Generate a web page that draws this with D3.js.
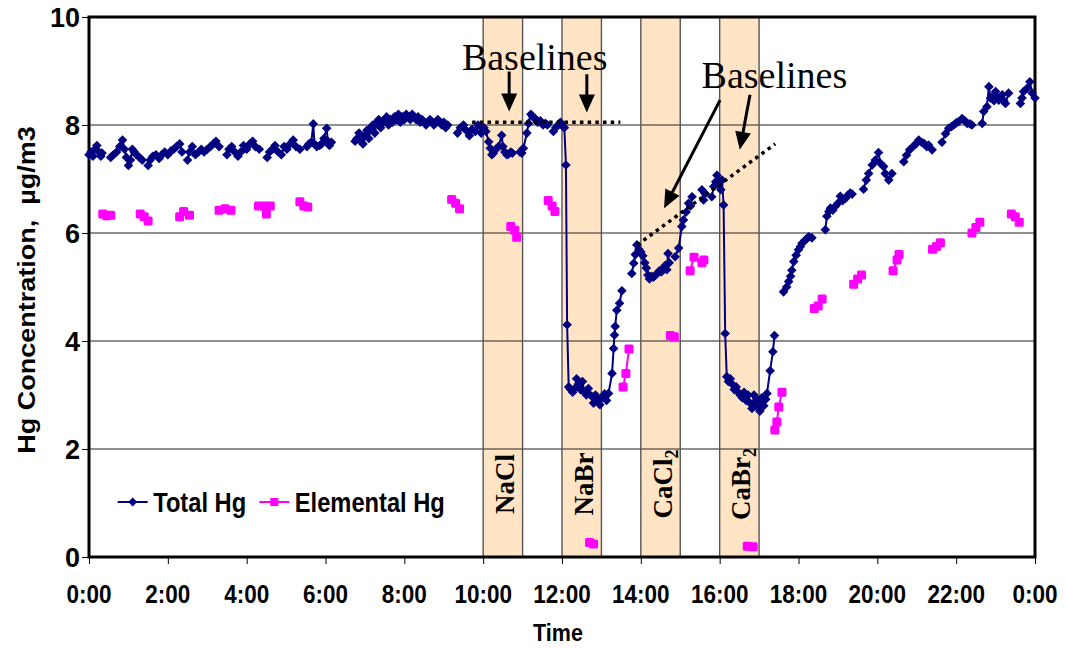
<!DOCTYPE html>
<html><head><meta charset="utf-8">
<script src="https://cdn.jsdelivr.net/npm/d3@7"></script>
<style>body{margin:0;background:#fff} svg{display:block}</style>
</head><body>
<svg id="c" width="1065" height="648"></svg>
<script>
// ---------- data ----------
const yTicks = [0, 2, 4, 6, 8, 10];
const yTickLabels = ["0", "2", "4", "6", "8", "10"];
const xTicks = [0, 2, 4, 6, 8, 10, 12, 14, 16, 18, 20, 22, 24];
const xTickLabels = ["0:00","2:00","4:00","6:00","8:00","10:00","12:00","14:00","16:00","18:00","20:00","22:00","0:00"];

const bandStart = [10, 12, 14, 16];
const bandEnd = [11, 13, 15, 17];
const bandNames = ["NaCl", "NaBr", "CaCl", "CaBr"];
const bandSubs = ["", "", "2", "2"];

const seriesNames = ["Total Hg", "Elemental Hg"];

// Total Hg (null = gap in record)
const totalHours = [
 0.00,0.05,0.10,0.15,0.20,0.25,0.30,0.33,null,
 0.55,0.62,0.70,0.78,0.85,0.90,0.95,1.00,1.05,1.10,1.15,1.20,1.28,1.35,null,
 1.50,1.55,1.62,1.70,1.78,1.85,1.92,2.00,2.08,2.15,2.22,2.30,2.36,null,
 2.50,2.55,2.62,2.70,2.78,2.85,2.92,3.00,3.08,3.15,3.22,3.30,null,
 3.50,3.55,3.62,3.70,3.78,3.85,3.92,4.00,4.08,4.15,4.22,4.32,null,
 4.52,4.58,4.65,4.72,4.80,4.88,4.95,5.02,5.10,5.18,5.25,5.35,null,
 5.53,5.58,5.64,5.69,5.72,5.78,5.85,5.90,5.96,6.03,6.06,6.10,6.15,null,
 6.75,6.80,6.85,6.90,6.95,7.00,7.05,7.10,7.15,7.20,7.25,7.30,7.35,7.40,7.45,7.50,7.55,7.60,7.65,7.70,7.75,7.80,7.85,7.90,7.95,8.00,8.05,8.10,8.15,8.20,8.25,8.30,8.35,8.40,8.45,8.50,8.55,8.60,8.65,8.70,8.75,8.80,8.85,8.90,8.95,9.00,9.05,9.10,null,
 9.35,9.42,9.50,9.57,9.65,9.72,9.80,9.87,9.95,10.02,10.07,10.14,10.18,10.22,10.26,10.32,10.39,10.47,10.50,10.55,10.60,10.64,10.70,10.74,null,
 10.93,10.98,11.02,11.11,11.15,11.21,11.26,11.32,11.38,11.45,11.52,11.58,11.63,null,
 11.78,11.84,11.90,11.96,12.02,12.06,12.10,12.13,12.17,12.22,12.27,12.32,12.37,12.42,12.47,12.52,12.57,12.62,12.67,12.75,12.80,12.85,12.90,12.96,13.02,13.08,13.13,13.18,13.27,13.31,13.33,13.35,13.39,13.46,13.52,null,
 13.77,13.82,13.86,13.90,13.95,14.00,14.05,14.10,14.14,14.18,14.22,14.27,14.32,14.37,14.42,14.47,14.52,14.57,14.62,14.66,14.69,14.72,null,
 14.87,14.96,15.04,15.08,15.15,15.21,15.26,15.30,null,
 15.55,15.59,15.63,null,
 15.80,15.85,15.90,15.93,15.97,16.00,16.03,16.06,16.10,16.14,16.18,16.22,16.27,16.32,16.37,16.42,16.47,16.52,16.57,16.62,16.67,16.72,16.77,16.82,16.87,16.92,16.97,17.02,17.07,17.12,17.17,17.20,17.28,17.35,17.39,null,
 17.62,17.70,17.75,17.80,17.83,17.88,17.94,18.00,18.05,18.09,18.17,18.22,18.26,18.34,null,
 18.68,18.72,18.77,18.81,18.87,18.93,19.00,19.06,19.12,19.19,19.25,19.31,19.36,null,
 19.65,19.72,19.78,19.87,19.95,20.03,20.08,20.16,20.20,20.29,20.37,null,
 20.67,20.74,20.82,20.92,20.98,21.05,21.12,21.18,21.25,21.30,21.39,null,
 21.64,21.73,21.81,21.88,21.94,22.00,22.06,22.15,22.22,22.28,22.35,22.40,null,
 22.66,22.70,22.78,22.83,22.87,22.91,22.96,23.00,23.04,23.08,23.13,23.17,23.21,23.25,23.33,null,
 23.63,23.67,23.71,23.80,23.87,23.93,24.00
];
const totalHg = [
 7.45,7.50,7.42,7.55,7.62,7.50,7.42,7.48,null,
 7.40,7.45,7.50,7.60,7.72,7.55,7.40,7.25,7.35,7.55,7.50,7.45,7.40,7.35,null,
 7.25,7.35,7.42,7.45,7.38,7.45,7.50,7.45,7.52,7.55,7.60,7.65,7.50,null,
 7.35,7.50,7.60,7.45,7.50,7.55,7.50,7.55,7.60,7.65,7.70,7.60,null,
 7.45,7.55,7.60,7.50,7.42,7.50,7.62,7.55,7.65,7.70,7.60,7.55,null,
 7.40,7.50,7.55,7.62,7.50,7.45,7.60,7.55,7.65,7.72,7.60,7.55,null,
 7.60,7.65,7.68,8.02,7.65,7.60,7.62,7.65,7.75,7.94,7.70,7.62,7.68,null,
 7.70,7.75,7.85,7.70,7.65,7.80,7.90,7.75,7.95,8.00,7.85,8.05,8.10,7.95,8.05,8.10,8.15,8.00,8.10,8.05,8.15,8.10,8.20,8.05,8.15,8.10,8.20,8.15,8.10,8.20,8.15,8.10,8.15,8.05,8.10,8.05,8.00,8.05,8.10,8.05,8.00,8.05,8.10,8.05,8.00,8.05,7.95,8.00,null,
 7.85,7.95,8.00,7.90,7.80,7.92,7.88,8.00,7.85,7.95,7.88,7.69,7.57,7.45,7.48,7.55,7.60,7.81,7.60,7.50,7.45,7.46,7.50,7.48,null,
 7.50,7.48,7.57,7.85,8.03,8.20,8.15,8.12,8.05,8.08,8.00,8.03,8.00,null,
 7.88,7.95,8.00,8.05,7.98,7.95,7.26,4.30,3.15,3.10,3.05,3.12,3.30,3.20,3.10,3.25,3.05,3.00,3.12,2.98,2.85,3.00,2.90,2.82,2.95,3.02,2.90,3.03,3.40,3.86,4.11,4.27,4.57,4.70,4.93,null,
 5.25,5.44,5.60,5.78,5.70,5.65,5.58,5.45,5.35,5.22,5.15,5.20,5.18,5.22,5.25,5.30,5.28,5.35,5.40,5.32,5.62,5.45,null,
 5.56,5.72,6.12,6.24,6.39,6.55,6.50,6.67,null,
 6.80,6.61,6.73,null,
 6.67,6.86,6.95,7.07,6.90,6.95,6.80,6.98,6.52,4.14,3.34,3.25,3.30,3.20,3.10,3.15,3.05,3.00,2.95,3.05,2.90,3.00,2.85,2.75,3.00,2.80,2.90,2.70,2.95,2.80,2.92,3.03,3.45,3.80,4.10,null,
 4.91,5.00,5.10,5.20,5.31,5.47,5.59,5.69,5.75,5.81,5.87,5.90,5.93,5.91,null,
 6.06,6.31,6.40,6.46,6.42,6.49,6.55,6.68,6.60,6.64,6.70,6.74,6.72,null,
 6.81,6.98,7.10,7.26,7.35,7.49,7.29,7.23,7.10,6.98,7.10,null,
 7.32,7.44,7.54,7.61,7.65,7.72,7.68,7.66,7.60,7.63,7.54,null,
 7.68,7.84,7.94,7.97,8.00,8.04,8.06,8.12,8.08,8.03,8.02,8.00,null,
 8.03,8.25,8.34,8.71,8.50,8.52,8.45,8.62,8.50,8.46,8.52,8.56,8.45,8.40,8.59,null,
 8.40,8.50,8.62,8.68,8.80,8.59,8.50
];

// Elemental Hg (null = gap)
const elemHours = [
 0.35,0.45,0.55,null, 1.30,1.40,1.50,null, 2.30,2.40,2.55,null, 3.30,3.45,3.60,null,
 4.30,4.45,4.50,4.60,null, 5.35,5.45,5.55,null, 9.20,9.30,9.40,null,
 10.70,10.80,10.85,null, 11.65,11.75,11.82,null, 12.70,12.80,null,
 13.55,13.62,13.70,null, 14.75,14.85,null, 15.25,15.35,15.55,15.60,null,
 16.70,16.85,null, 17.40,17.45,17.50,17.58,null,
 18.40,18.50,18.60,null, 19.40,19.50,19.60,null, 20.40,20.50,20.55,null,
 21.40,21.50,21.60,null, 22.40,22.50,22.60,null, 23.40,23.50,23.60
];
const elemHg = [
 6.35,6.32,6.33,null, 6.35,6.30,6.22,null, 6.30,6.40,6.33,null, 6.42,6.45,6.42,null,
 6.50,6.50,6.35,6.50,null, 6.58,6.50,6.48,null, 6.62,6.55,6.45,null,
 6.12,6.05,5.92,null, 6.60,6.50,6.40,null, 0.27,0.24,null,
 3.15,3.40,3.85,null, 4.10,4.08,null, 5.30,5.55,5.45,5.50,null,
 0.20,0.19,null, 2.35,2.50,2.78,3.05,null,
 4.60,4.65,4.78,null, 5.05,5.15,5.22,null, 5.30,5.50,5.60,null,
 5.70,5.75,5.82,null, 6.00,6.10,6.20,null, 6.35,6.30,6.20
];

// annotations (data units)
const flatBaselineHours = [9.72, 13.48];
const flatBaselineHg = [8.05, 8.05];
const slopeBaselineHours = [13.91, 17.41];
const slopeBaselineHg = [5.78, 7.65];
const arrowFromHours = [10.66, 12.63, 16.01, 16.77];
const arrowFromHg = [8.99, 8.94, 8.46, 8.56];
const arrowToHours = [10.66, 12.63, 14.59, 16.51];
const arrowToHg = [8.25, 8.23, 6.46, 7.54];
const noteText = ["Baselines", "Baselines"];
const noteHours = [9.46, 15.54];
const noteHg = [9.02, 8.68];

// ---------- chart ----------
const svg = d3.select("#c");
const x = d3.scaleLinear().domain([0, 24]).range([89, 1035]);
const y = d3.scaleLinear().domain([0, 10]).range([557, 17]);
const SANS = "'Liberation Sans', Arial, sans-serif";
const SERIF = "'Liberation Serif', 'Times New Roman', serif";
const STRETCH = 1.15;

// band pattern
const defs = svg.append("defs");
const pat = defs.append("pattern").attr("id", "dots").attr("patternUnits", "userSpaceOnUse")
  .attr("width", 2).attr("height", 2);
pat.append("rect").attr("width", 2).attr("height", 2).attr("fill", "#FEEFDF");
pat.append("rect").attr("width", 1).attr("height", 1).attr("fill", "#FBDCBC");
pat.append("rect").attr("x", 1).attr("y", 1).attr("width", 1).attr("height", 1).attr("fill", "#FBDCBC");

// bands
const bands = bandStart.map((s, i) => ({s, e: bandEnd[i], name: bandNames[i], sub: bandSubs[i]}));
svg.append("g").selectAll("rect").data(bands).join("rect")
  .attr("x", d => x(d.s)).attr("width", d => x(d.e) - x(d.s))
  .attr("y", y(10)).attr("height", y(0) - y(10))
  .attr("fill", "url(#dots)");

// gridlines
svg.append("g").selectAll("line").data(yTicks.filter(v => v > 0 && v < 10)).join("line")
  .attr("x1", x(0)).attr("x2", x(24)).attr("y1", d => y(d)).attr("y2", d => y(d))
  .attr("stroke", "#222").attr("stroke-width", 1.1);

// band edges
svg.append("g").selectAll("line").data(bands.flatMap(d => [d.s, d.e])).join("line")
  .attr("x1", d => x(d)).attr("x2", d => x(d)).attr("y1", y(10)).attr("y2", y(0))
  .attr("stroke", "#555").attr("stroke-width", 1.4);

// band labels
const bl = svg.append("g").selectAll("text").data(bands).join("text")
  .attr("transform", d => `translate(${(x(d.s) + x(d.e)) / 2 + 11},484) rotate(-90)`)
  .attr("text-anchor", "middle")
  .attr("font-family", SERIF).attr("font-weight", "bold").attr("font-size", 27).attr("fill", "#000");
bl.append("tspan").text(d => d.name);
bl.filter(d => d.sub).append("tspan").attr("font-size", 18).attr("dy", 6).text(d => d.sub);

// frame
svg.append("rect").attr("x", x(0)).attr("y", y(10)).attr("width", x(24) - x(0)).attr("height", y(0) - y(10))
  .attr("fill", "none").attr("stroke", "#000").attr("stroke-width", 3);

// axes ticks
svg.append("g").attr("transform", `translate(0,${y(0)})`)
  .call(d3.axisBottom(x).tickValues(xTicks).tickSize(7).tickFormat(""))
  .call(g => g.select(".domain").remove())
  .call(g => g.selectAll("line").attr("stroke", "#000").attr("stroke-width", 1));
svg.append("g").attr("transform", `translate(${x(0)},0)`)
  .call(d3.axisLeft(y).tickValues(yTicks).tickSize(7).tickFormat(""))
  .call(g => g.select(".domain").remove())
  .call(g => g.selectAll("line").attr("stroke", "#000").attr("stroke-width", 1));

// tick labels
svg.append("g").selectAll("text").data(xTicks).join("text")
  .attr("transform", d => `translate(${x(d)},603) scale(1,${STRETCH})`)
  .attr("text-anchor", "middle").attr("font-family", SANS).attr("font-weight", "bold")
  .attr("font-size", 22.5).text((d, i) => xTickLabels[i]);
svg.append("g").selectAll("text").data(yTicks).join("text")
  .attr("transform", d => `translate(80,${y(d) + 9.5})`)
  .attr("text-anchor", "end").attr("font-family", SANS).attr("font-weight", "bold")
  .attr("font-size", 27).text((d, i) => yTickLabels[i]);

// axis titles
svg.append("text").attr("transform", `translate(558,641) scale(1,${STRETCH})`)
  .attr("text-anchor", "middle").attr("font-family", SANS).attr("font-weight", "bold")
  .attr("font-size", 21.5).text("Time");
svg.append("text").attr("transform", `translate(35,290) scale(1,${STRETCH}) rotate(-90)`)
  .attr("text-anchor", "middle").attr("font-family", SANS).attr("font-weight", "bold")
  .attr("font-size", 23.5).attr("xml:space", "preserve").text("Hg Concentration,  µg/m3");

// series
const NAVY = "#000080", PINK = "#FF00FF";
const diamond = r => `M0,${-r}L${r},0L0,${r}L${-r},0Z`;
const totalPts = totalHours.map((h, i) => ({h, v: totalHg[i]}));
const elemPts = elemHours.map((h, i) => ({h, v: elemHg[i]}));
const line = d3.line().defined(d => d.v != null).x(d => x(d.h)).y(d => y(d.v));

svg.append("path").datum(elemPts).attr("d", line).attr("fill", "none")
  .attr("stroke", PINK).attr("stroke-width", 2);
svg.append("g").selectAll("rect").data(elemPts.filter(d => d.v != null)).join("rect")
  .attr("x", d => x(d.h) - 4.5).attr("y", d => y(d.v) - 4.5).attr("width", 9).attr("height", 9)
  .attr("rx", 1.5).attr("fill", PINK);

svg.append("path").datum(totalPts).attr("d", line).attr("fill", "none")
  .attr("stroke", NAVY).attr("stroke-width", 2);
svg.append("g").selectAll("path").data(totalPts.filter(d => d.v != null)).join("path")
  .attr("transform", d => `translate(${x(d.h)},${y(d.v)})`).attr("d", diamond(4.8))
  .attr("fill", NAVY);

// dotted baselines
const dotted = [
  flatBaselineHours.map((h, i) => ({h, v: flatBaselineHg[i]})),
  slopeBaselineHours.map((h, i) => ({h, v: slopeBaselineHg[i]}))
];
svg.append("g").selectAll("path").data(dotted).join("path")
  .attr("d", d3.line().x(d => x(d.h)).y(d => y(d.v)))
  .attr("fill", "none").attr("stroke", "#000").attr("stroke-width", 3.5)
  .attr("stroke-dasharray", "3.5,4.2");

// arrows
const ag = svg.append("g");
arrowFromHours.forEach((h, i) => {
  const x1 = x(h), y1 = y(arrowFromHg[i]), x2 = x(arrowToHours[i]), y2 = y(arrowToHg[i]);
  const dx = x2 - x1, dy = y2 - y1, L = Math.hypot(dx, dy), ux = dx / L, uy = dy / L;
  const hl = 18, hw = 8;
  const bx = x2 - ux * hl, by = y2 - uy * hl;
  ag.append("line").attr("x1", x1).attr("y1", y1).attr("x2", bx + ux * 2).attr("y2", by + uy * 2)
    .attr("stroke", "#000").attr("stroke-width", 3);
  ag.append("path").attr("d", `M${x2},${y2}L${bx - uy * hw},${by + ux * hw}L${bx + uy * hw},${by - ux * hw}Z`)
    .attr("fill", "#000");
});

// notes
svg.append("g").selectAll("text").data(noteText).join("text")
  .attr("x", (d, i) => x(noteHours[i])).attr("y", (d, i) => y(noteHg[i]))
  .attr("font-family", SERIF).attr("font-size", 38).attr("fill", "#000").text(d => d);

// legend
const lg = svg.append("g");
const legendX = [117.7, 259.3];
seriesNames.forEach((name, i) => {
  const lx = legendX[i], ly = 502;
  const col = i === 0 ? NAVY : PINK;
  lg.append("line").attr("x1", lx).attr("x2", lx + 30).attr("y1", ly).attr("y2", ly)
    .attr("stroke", col).attr("stroke-width", 2);
  if (i === 0) lg.append("path").attr("transform", `translate(${lx + 15},${ly})`).attr("d", diamond(4.5)).attr("fill", col);
  else lg.append("rect").attr("x", lx + 11).attr("y", ly - 4).attr("width", 8).attr("height", 8).attr("fill", col);
  lg.append("text").attr("transform", `translate(${lx + 35.5},511.5) scale(1,${STRETCH})`)
    .attr("font-family", SANS).attr("font-weight", "bold").attr("font-size", 23.7).text(name);
});
</script>
</body></html>
